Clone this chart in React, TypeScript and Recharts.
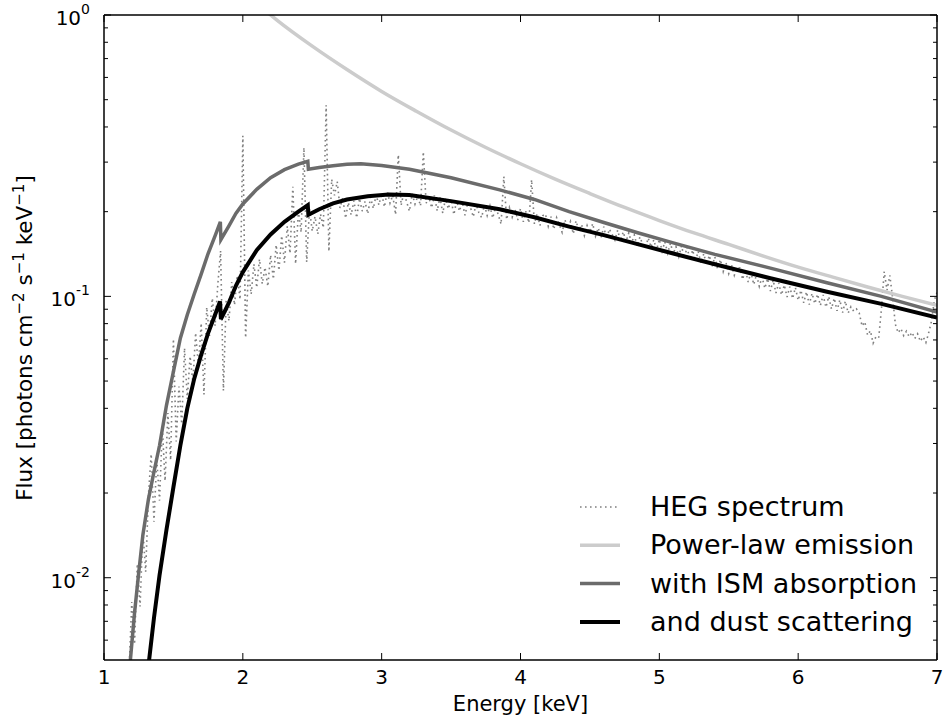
import React from "react";
import { LineChart, Line, XAxis, YAxis, Legend, Label } from "recharts";

const FONT = "'DejaVu Sans', 'Bitstream Vera Sans', sans-serif";

// HEG spectrum: 0.02 keV bins starting at 1.18 keV
const hegStart = 1.18;
const hegStep = 0.02;
// 1.18 - 2.16 keV
const hegSoft = [
  0.0046, 0.0082, 0.0058, 0.0112, 0.0079, 0.0148, 0.0105, 0.0196, 0.0275, 0.0158,
  0.0265, 0.0188, 0.0342, 0.0221, 0.0385, 0.0262, 0.0705, 0.0305, 0.0478, 0.0352,
  0.0655, 0.0432, 0.0612, 0.0495, 0.0742, 0.0568, 0.0803, 0.0448, 0.0915, 0.0724,
  0.0985, 0.0786, 0.1105, 0.1452, 0.0462, 0.0965, 0.0818, 0.1124, 0.0932, 0.1186,
  0.0975, 0.372, 0.0712, 0.1235, 0.1018, 0.1302, 0.1074, 0.1355, 0.1108, 0.1268,
];
// 2.18 - 4.16 keV
const hegMid = [
  0.1085, 0.1402, 0.1152, 0.1524, 0.1236, 0.1641, 0.1318, 0.1775, 0.1421, 0.2452,
  0.1305, 0.2012, 0.1688, 0.338, 0.1325, 0.2045, 0.1705, 0.1922, 0.1665, 0.1958,
  0.1752, 0.478, 0.1445, 0.2605, 0.2285, 0.2558, 0.2062, 0.2245, 0.1895, 0.2156,
  0.1948, 0.2185, 0.1902, 0.2231, 0.2008, 0.2176, 0.1965, 0.2248, 0.2052, 0.2295,
  0.2112, 0.2325, 0.2078, 0.2364, 0.2145, 0.2288, 0.1952, 0.3185, 0.2106, 0.2342,
  0.2165, 0.2008, 0.2315, 0.2128, 0.2272, 0.2096, 0.3265, 0.2142, 0.2256, 0.2064,
  0.2285, 0.2012, 0.2248, 0.1975, 0.2232, 0.2045, 0.2208, 0.1952, 0.2186, 0.2008,
  0.2165, 0.1942, 0.2148, 0.2068, 0.1918, 0.2132, 0.1985, 0.1905, 0.2112, 0.1938,
  0.2095, 0.1898, 0.2076, 0.1952, 0.1805, 0.2665, 0.1875, 0.2068, 0.1912, 0.2045,
  0.1868, 0.2052, 0.1842, 0.2012, 0.1825, 0.2598, 0.1808, 0.1972, 0.1785, 0.1935,
];
// 4.18 - 7.00 keV
const hegHard = [
  0.1962, 0.1775, 0.1918, 0.1732, 0.1905, 0.1798, 0.1688, 0.1872, 0.1742, 0.1845,
  0.1668, 0.1855, 0.1712, 0.1802, 0.1645, 0.1786, 0.1692, 0.1815, 0.1638, 0.1752,
  0.1612, 0.1768, 0.1598, 0.1735, 0.1662, 0.1585, 0.1718, 0.1572, 0.1695, 0.1568,
  0.1682, 0.1545, 0.1652, 0.1508, 0.1625, 0.1532, 0.1488, 0.1612, 0.1495, 0.1588,
  0.1462, 0.1595, 0.1448, 0.1562, 0.1425, 0.1545, 0.1418, 0.1502, 0.1385, 0.1512,
  0.1368, 0.1495, 0.1352, 0.1462, 0.1332, 0.1445, 0.1312, 0.1418, 0.1295, 0.1398,
  0.1275, 0.1382, 0.1248, 0.1352, 0.1225, 0.1318, 0.1205, 0.1292, 0.1188, 0.1265,
  0.1262, 0.1148, 0.1245, 0.1125, 0.1218, 0.1102, 0.1195, 0.1085, 0.1172, 0.1068,
  0.1158, 0.1045, 0.1142, 0.1028, 0.1115, 0.1012, 0.1098, 0.0995, 0.1082, 0.0982,
  0.1075, 0.0968, 0.1052, 0.0948, 0.1038, 0.0935, 0.1025, 0.0942, 0.1018, 0.0928,
  0.1012, 0.0915, 0.0998, 0.0902, 0.0985, 0.0888, 0.0972, 0.0875, 0.0962, 0.0872,
  0.0918, 0.0885, 0.0902, 0.0872, 0.0785, 0.0812, 0.0728, 0.0755, 0.0682, 0.0718,
  0.0712, 0.0905, 0.1225, 0.1052, 0.1188, 0.0992, 0.0795, 0.0742, 0.0768, 0.0725,
  0.0752, 0.0718, 0.0745, 0.0708, 0.0736, 0.0692, 0.0718, 0.0685, 0.0742, 0.0815,
  0.0965, 0.1032,
];

// power-law emission
const powerLawE = [2.0, 2.25, 2.5, 2.75, 3.0, 3.25, 3.5, 3.75, 4.0, 4.25, 4.5, 4.75, 5.0, 5.25, 5.5, 5.75, 6.0, 6.25, 6.5, 6.75, 7.0];
const powerLawF = [1.22, 0.955, 0.775, 0.64, 0.535, 0.455, 0.39, 0.338, 0.296, 0.261, 0.232, 0.207, 0.186, 0.168, 0.153, 0.139, 0.127, 0.117, 0.108, 0.1, 0.093];

// with ISM absorption
const ismE = [1.17, 1.19, 1.22, 1.25, 1.28, 1.32, 1.36, 1.4, 1.45, 1.5, 1.55, 1.6, 1.65, 1.7, 1.75, 1.8, 1.838, 1.842, 1.9, 1.95, 2.0, 2.1, 2.2, 2.3, 2.4, 2.468, 2.472, 2.55, 2.65, 2.75, 2.85, 3.0, 3.2, 3.5, 3.85, 4.1, 4.35, 4.6, 4.85, 5.1, 5.4, 5.8, 6.2, 6.6, 7.0];
const ismF = [0.0042, 0.0051, 0.0075, 0.0104, 0.0142, 0.019, 0.0238, 0.0295, 0.041, 0.054, 0.071, 0.086, 0.102, 0.12, 0.142, 0.164, 0.184, 0.159, 0.178, 0.197, 0.213, 0.24, 0.264, 0.282, 0.295, 0.302, 0.283, 0.287, 0.291, 0.295, 0.296, 0.292, 0.283, 0.264, 0.239, 0.221, 0.2, 0.183, 0.168, 0.155, 0.141, 0.126, 0.112, 0.1, 0.088];

// and dust scattering
const dustE = [1.31, 1.325, 1.36, 1.4, 1.45, 1.5, 1.55, 1.6, 1.65, 1.7, 1.75, 1.8, 1.836, 1.842, 1.9, 1.95, 2.0, 2.1, 2.2, 2.3, 2.4, 2.468, 2.472, 2.55, 2.65, 2.75, 2.9, 3.05, 3.2, 3.5, 3.85, 4.1, 4.35, 4.6, 4.85, 5.1, 5.4, 5.8, 6.2, 6.6, 7.0];
const dustF = [0.0042, 0.0051, 0.0072, 0.0102, 0.0148, 0.021, 0.0295, 0.04, 0.051, 0.062, 0.074, 0.086, 0.096, 0.083, 0.095, 0.109, 0.122, 0.146, 0.166, 0.184, 0.2, 0.211, 0.195, 0.204, 0.214, 0.221, 0.227, 0.23, 0.229, 0.218, 0.204, 0.191, 0.177, 0.165, 0.153, 0.142, 0.13, 0.116, 0.104, 0.094, 0.084];

const xTicks = [1, 2, 3, 4, 5, 6, 7];
const yMajor = [0.01, 0.1, 1];
const yMinor = [
  0.006, 0.007, 0.008, 0.009,
  0.02, 0.03, 0.04, 0.05, 0.06, 0.07, 0.08, 0.09,
  0.2, 0.3, 0.4, 0.5, 0.6, 0.7, 0.8, 0.9,
];
const yTicks = [...yMinor, ...yMajor].sort((a, b) => a - b);

const legendLabels = ["HEG spectrum", "Power-law emission", "with ISM absorption", "and dust scattering"];

const hegData = [...hegSoft, ...hegMid, ...hegHard].map((f, i) => ({
  e: Math.round((hegStart + i * hegStep) * 100) / 100,
  f,
}));
const pairs = (es: number[], fs: number[]) => es.map((e, i) => ({ e, f: fs[i] }));
const powerLawData = pairs(powerLawE, powerLawF);
const ismData = pairs(ismE, ismF);
const dustData = pairs(dustE, dustF);

const seriesStyles = [
  { stroke: "#7f7f7f", strokeWidth: 1.6, strokeDasharray: "1.6 3.4" },
  { stroke: "#cccccc", strokeWidth: 3.5 },
  { stroke: "#6b6b6b", strokeWidth: 3.5 },
  { stroke: "#000000", strokeWidth: 4 },
];

const isMajor = (v: number) => yMajor.some((m) => Math.abs(m - v) / m < 1e-6);

function LeftTick(props: any) {
  const { x, y, payload } = props;
  const v = payload.value;
  const major = isMajor(v);
  return (
    <g>
      <line x1={x} y1={y} x2={x + (major ? 7 : 4)} y2={y} stroke="#000" strokeWidth={1} />
      {major && (
        <text x={x - 14} y={y + 10} textAnchor="end" fontFamily={FONT} fontSize={20} fill="#000">
          10
          <tspan dy={-11} fontSize={14}>
            {String(Math.round(Math.log10(v)))}
          </tspan>
        </text>
      )}
    </g>
  );
}

function RightTick(props: any) {
  const { x, y, payload } = props;
  const major = isMajor(payload.value);
  return <line x1={x} y1={y} x2={x - (major ? 7 : 4)} y2={y} stroke="#000" strokeWidth={1} />;
}

function BottomTick(props: any) {
  const { x, y, payload } = props;
  return (
    <g>
      <line x1={x} y1={y} x2={x} y2={y - 7} stroke="#000" strokeWidth={1} />
      <text x={x} y={y + 24} textAnchor="middle" fontFamily={FONT} fontSize={20} fill="#000">
        {payload.value}
      </text>
    </g>
  );
}

function TopTick(props: any) {
  const { x, y } = props;
  return <line x1={x} y1={y} x2={x} y2={y + 7} stroke="#000" strokeWidth={1} />;
}

function YLabel() {
  const cx = 32;
  const cy = 338;
  return (
    <text
      transform={`rotate(-90 ${cx} ${cy})`}
      x={cx}
      y={cy}
      textAnchor="middle"
      fontFamily={FONT}
      fontSize={21.5}
      fill="#000"
    >
      Flux [photons cm
      <tspan dy={-8} fontSize={15}>−2</tspan>
      <tspan dy={8}> s</tspan>
      <tspan dy={-8} fontSize={15}>−1</tspan>
      <tspan dy={8}> keV</tspan>
      <tspan dy={-8} fontSize={15}>−1</tspan>
      <tspan dy={8}>]</tspan>
    </text>
  );
}

function LegendBox() {
  return (
    <svg width={360} height={160}>
      {legendLabels.map((label, i) => {
        const s: any = seriesStyles[i];
        return (
          <g key={label} transform={`translate(0, ${i * 38.3})`}>
            <line x1={5} x2={45} y1={22} y2={22} stroke={s.stroke} strokeWidth={s.strokeWidth} strokeDasharray={s.strokeDasharray} />
            <text x={75} y={31} fontFamily={FONT} fontSize={27} fill="#000">
              {label}
            </text>
          </g>
        );
      })}
    </svg>
  );
}

const axisLine = { stroke: "#000", strokeWidth: 1.5 };

export default function App() {
  return (
    <div style={{ width: 943, height: 722 }}>
      <style>{"body{margin:0}"}</style>
      <LineChart width={943} height={722} margin={{ top: 14, right: 5, bottom: 0, left: 0 }}>
        <XAxis
          xAxisId="b"
          type="number"
          dataKey="e"
          domain={[1, 7]}
          ticks={xTicks}
          interval={0}
          allowDataOverflow
          height={62}
          tickSize={0}
          tickMargin={0}
          tick={<BottomTick />}
          axisLine={axisLine}
        >
          <Label value="Energy [keV]" position="insideBottom" offset={11} fill="#000" fontSize={21} fontFamily={FONT} />
        </XAxis>
        <XAxis
          xAxisId="t"
          orientation="top"
          type="number"
          dataKey="e"
          domain={[1, 7]}
          ticks={xTicks}
          interval={0}
          allowDataOverflow
          height={1}
          tickSize={0}
          tickMargin={0}
          tick={<TopTick />}
          axisLine={axisLine}
        />
        <YAxis
          yAxisId="l"
          type="number"
          scale="log"
          domain={[0.0051, 1]}
          ticks={yTicks}
          interval={0}
          allowDataOverflow
          width={104}
          tickSize={0}
          tickMargin={0}
          tick={<LeftTick />}
          axisLine={axisLine}
        >
          <Label content={YLabel} />
        </YAxis>
        <YAxis
          yAxisId="r"
          orientation="right"
          type="number"
          scale="log"
          domain={[0.0051, 1]}
          ticks={yTicks}
          interval={0}
          allowDataOverflow
          width={1}
          tickSize={0}
          tickMargin={0}
          tick={<RightTick />}
          axisLine={axisLine}
        />
        <Line
          xAxisId="b"
          yAxisId="l"
          data={hegData}
          dataKey="f"
          type="linear"
          dot={false}
          activeDot={false}
          isAnimationActive={false}
          {...seriesStyles[0]}
        />
        <Line
          xAxisId="b"
          yAxisId="l"
          data={powerLawData}
          dataKey="f"
          type="monotone"
          dot={false}
          activeDot={false}
          isAnimationActive={false}
          {...seriesStyles[1]}
        />
        <Line
          xAxisId="b"
          yAxisId="l"
          data={ismData}
          dataKey="f"
          type="linear"
          dot={false}
          activeDot={false}
          isAnimationActive={false}
          {...seriesStyles[2]}
        />
        <Line
          xAxisId="b"
          yAxisId="l"
          data={dustData}
          dataKey="f"
          type="linear"
          dot={false}
          activeDot={false}
          isAnimationActive={false}
          {...seriesStyles[3]}
        />
        <Legend
          content={<LegendBox />}
          layout="vertical"
          align="center"
          verticalAlign="middle"
          wrapperStyle={{ position: "absolute", left: 575, top: 485, width: 360, height: 160 }}
        />
      </LineChart>
    </div>
  );
}
